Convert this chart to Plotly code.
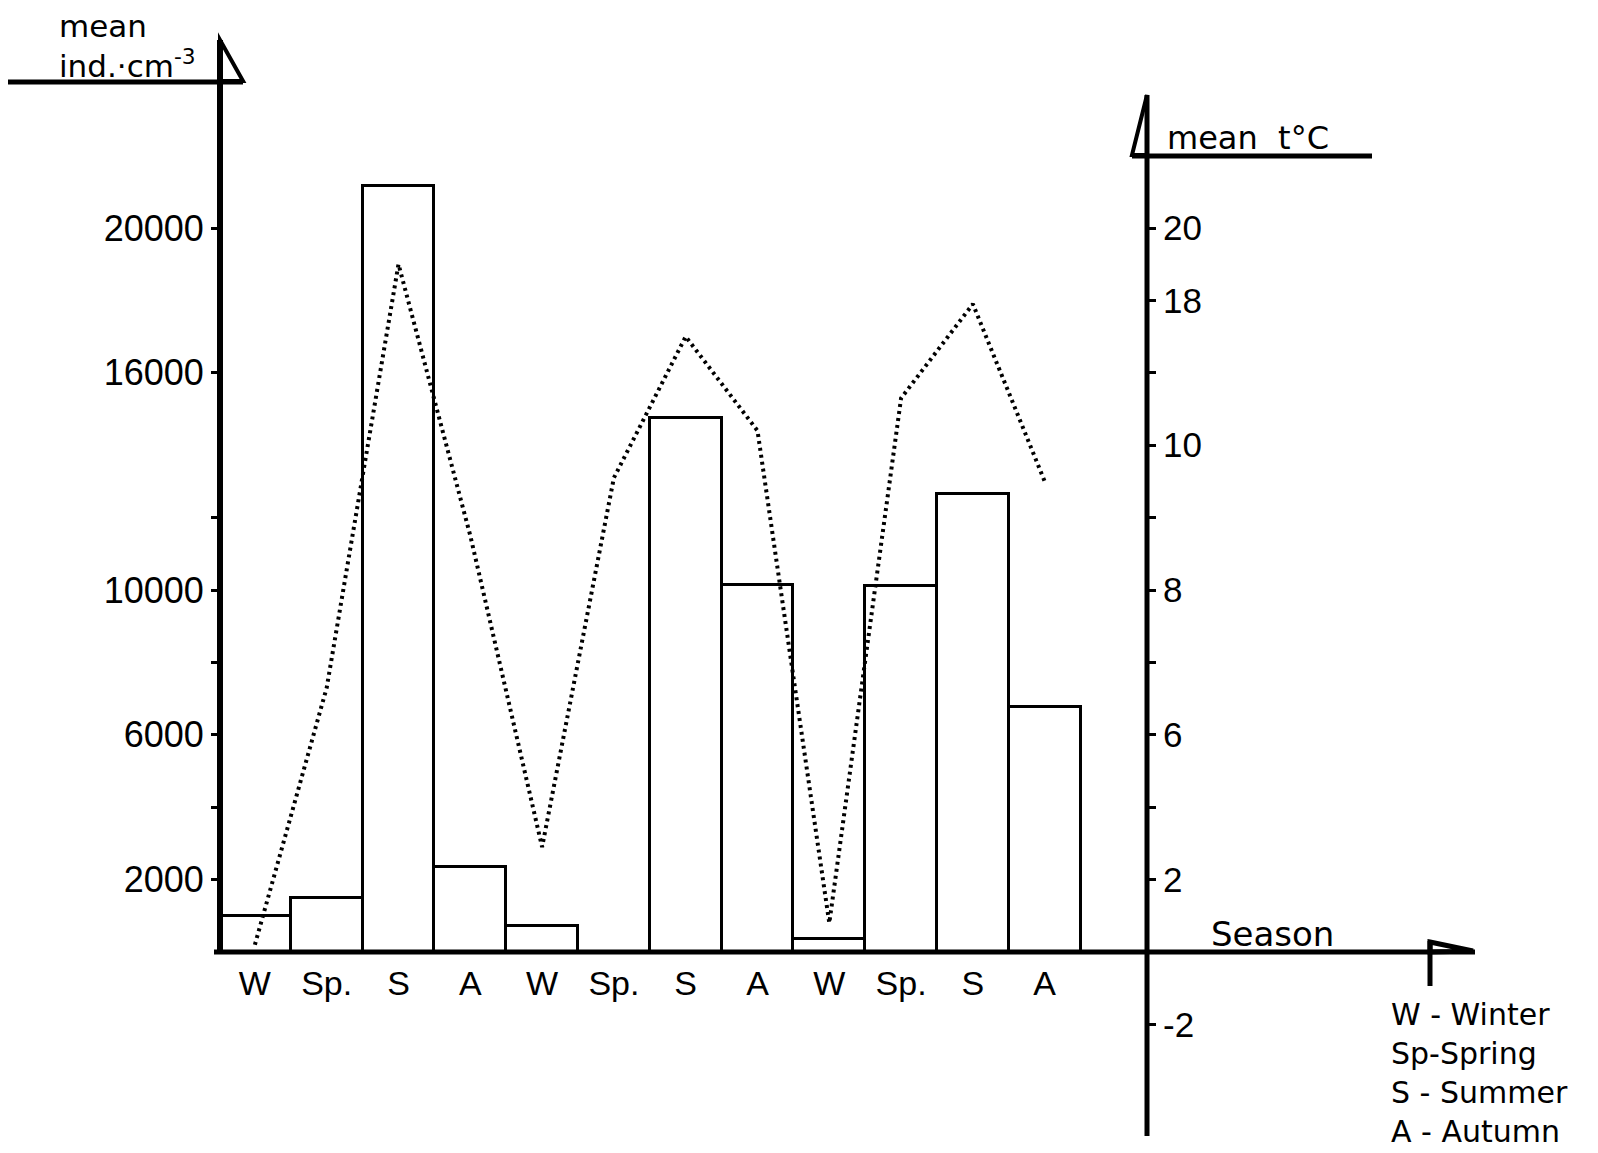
import plotly.graph_objects as go

# ---------------- data ----------------
seasons = ["W", "Sp.", "S", "A", "W", "Sp.", "S", "A", "W", "Sp.", "S", "A"]
density = [990, 1500, 21150, 2350, 720, None, 14750, 10150, 370, 10100, 12650, 6780]   # mean ind.·cm-3
temperature = [0.2, 7.3, 19.0, 11.5, 2.9, 13.1, 17.0, 14.4, 0.8, 15.3, 17.9, 13.0]    # mean t °C

dens_tickvals = [2000, 6000, 10000, 16000, 20000]
dens_ticktext = ["2000", "6000", "10000", "16000", "20000"]
dens_minor = [4000, 8000, 12000]
temp_tickvals = [-2, 2, 6, 10, 14, 18, 20]
temp_ticktext = ["-2", "2", "6", "8", "10", "18", "20"]
temp_minor = [4, 8, 12, 16]
legend_lines = ["W - Winter", "Sp-Spring", "S - Summer", "A - Autumn"]

# ---------------- layout geometry (page pixels) ----------------
W, H = 1598, 1153
PL, PT, PR, PB = 219, 40, 1475, 1136   # plot box in page pixels
L, T, R, B = PL, PT, W - PR, H - PB
PW, PH = W - L - R, H - T - B
X_PX = 71.8      # px per season
Y_PX = 36.2      # px per 1000 ind. (and per 1 degree)
BASE = 952       # page row of the zero line
FONT = "Liberation Sans, Arial, sans-serif"
WFONT = "DejaVu Sans, Verdana, sans-serif"

xr = [-0.5, -0.5 + PW / X_PX]
yr = [-(PB - BASE) / Y_PX * 1000, (BASE - PT) / Y_PX * 1000]
y2r = [v / 1000 for v in yr]


def px(x):
    return (x - PL) / PW


def py(y):
    return (PB - y) / PH


RIGHT_AX = 1147

fig = go.Figure()
fig.add_trace(go.Bar(
    x=list(range(len(seasons))), y=density, width=1,
    marker=dict(color="white", line=dict(color="black", width=3)),
    xaxis="x", yaxis="y", showlegend=False,
))
fig.add_trace(go.Scatter(
    x=list(range(len(seasons))), y=temperature, mode="lines",
    line=dict(color="black", width=4, dash="3px,4px"),
    xaxis="x", yaxis="y2", showlegend=False,
))

shapes = []


def seg(x0, y0, x1, y1, w=5):
    shapes.append(dict(type="line", xref="paper", yref="paper",
                       x0=px(x0), y0=py(y0), x1=px(x1), y1=py(y1),
                       line=dict(color="black", width=w)))


def path(pts, w=4, fill=None):
    d = "M " + " L ".join(f"{px(a):.5f},{py(b):.5f}" for a, b in pts) + " Z"
    shapes.append(dict(type="path", xref="paper", yref="paper", path=d,
                       line=dict(color="black", width=w),
                       fillcolor=fill if fill else "rgba(0,0,0,0)"))


# left axis + flag
seg(220, BASE, 220, 40, 6)
seg(8, 82, 243, 82, 5)
path([(220, 40), (243, 81), (220, 81)], 4)
# baseline (season axis) + flag
seg(214, BASE, 1475, BASE, 5)
seg(1430, 941, 1430, 986, 5)
path([(1430, 942), (1473, 951), (1430, 952)], 5)
# right axis + flag
seg(RIGHT_AX, 95, RIGHT_AX, 1136, 5)
seg(1132, 156, 1372, 156, 5)
path([(RIGHT_AX, 95), (1132, 155), (RIGHT_AX, 155)], 4)

annotations = []


def txt(s, x, y, size=33, align="left"):
    annotations.append(dict(text=s, xref="paper", yref="paper", x=px(x), y=py(y),
                            xanchor="left", yanchor="middle", showarrow=False,
                            borderpad=0, align=align,
                            font=dict(family=WFONT, size=size, color="black")))


txt("mean<br>ind.·cm<sup>-3</sup>", 58, 46, 31)
txt("mean  t°C", 1166, 138, 32)
txt("Season", 1210, 934, 34)
txt("<br>".join(legend_lines), 1390, 1073, 30)

fig.update_layout(
    template="none",
    width=W, height=H, autosize=False,
    margin=dict(l=L, r=R, t=T, b=B, pad=0),
    paper_bgcolor="white", plot_bgcolor="rgba(0,0,0,0)",
    shapes=shapes, annotations=annotations,
    bargap=0,
    xaxis=dict(range=xr, anchor="free", position=py(BASE), showline=False,
               showgrid=False, zeroline=False, ticks="",
               tickvals=list(range(len(seasons))), ticktext=seasons,
               ticklabelstandoff=8, automargin=False,
               tickfont=dict(family=FONT, size=34, color="black")),
    yaxis=dict(range=yr, anchor="free", position=0, showline=False,
               showgrid=False, zeroline=False, ticks="outside", ticklen=8,
               tickwidth=3, tickcolor="black",
               tickvals=dens_tickvals, ticktext=dens_ticktext, automargin=False,
               minor=dict(tickvals=dens_minor, ticks="outside", ticklen=8,
                          tickwidth=3, tickcolor="black", showgrid=False),
               tickfont=dict(family=FONT, size=36, color="black")),
    yaxis2=dict(range=y2r, overlaying="y", anchor="free", position=px(RIGHT_AX),
                side="right", showline=False, showgrid=False, zeroline=False,
                ticks="outside", ticklen=8, tickwidth=3, tickcolor="black",
                tickvals=temp_tickvals, ticktext=temp_ticktext, automargin=False,
                minor=dict(tickvals=temp_minor, ticks="outside", ticklen=8,
                           tickwidth=3, tickcolor="black", showgrid=False),
                tickfont=dict(family=FONT, size=35, color="black")),
    yaxis3=dict(range=y2r, overlaying="y", anchor="free", position=px(RIGHT_AX),
                side="right", showline=False, showgrid=False, zeroline=False,
                ticks="inside", ticklen=6, tickwidth=3, tickcolor="black",
                tickvals=temp_tickvals + temp_minor, showticklabels=False,
                automargin=False),
)

fig.write_html(
    "out.html",
    config={"displayModeBar": False},
    post_script="document.body.style.margin='0px';document.body.style.padding='0px';"
                "document.body.style.overflow='hidden';",
)
